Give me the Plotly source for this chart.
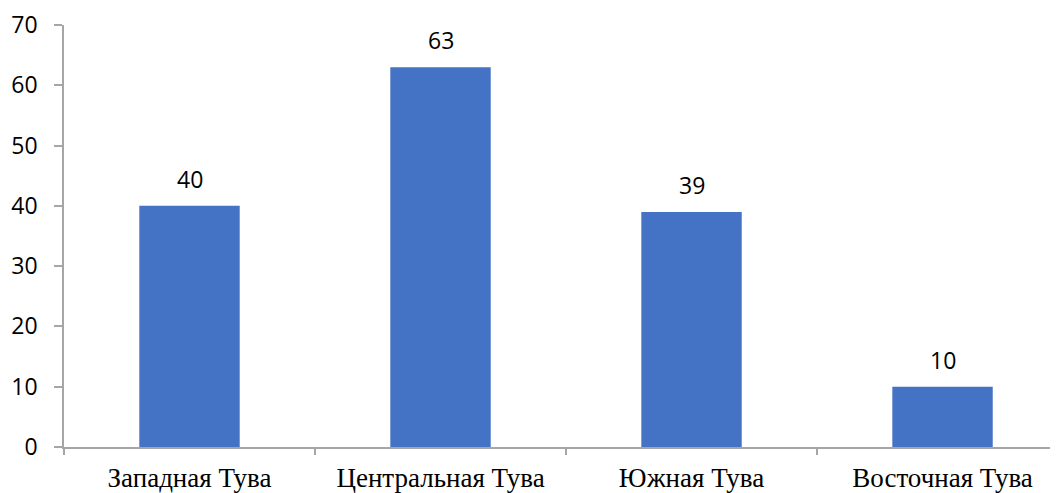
import plotly.graph_objects as go

regions = ['Западная Тува', 'Центральная Тува', 'Южная Тува', 'Восточная Тува']
values = [40, 63, 39, 10]
y_ticks = [0, 10, 20, 30, 40, 50, 60, 70]

axis_col = '#a6a6a6'
bar_col = '#4472c4'
sans = 'Open Sans, Liberation Sans'

fig = go.Figure(go.Bar(x=regions, y=values, width=0.4, marker=dict(color=bar_col, line=dict(width=0))))

# подписи значений над столбцами
for r, v in zip(regions, values):
  fig.add_annotation(x=r, y=v, text=str(v), showarrow=False, yshift=27,
                     font=dict(family=sans, size=23, color='black'))

# страница html имеет отступ 8px, поэтому фигура чуть меньше окна
fig.update_layout(
  width=1050, height=485,
  margin=dict(l=56, r=0, t=17, b=46),
  plot_bgcolor='white', paper_bgcolor='white',
  showlegend=False,
)
fig.update_yaxes(
  range=[0, 70], tickvals=y_ticks, showgrid=False, zeroline=False,
  showline=True, linecolor=axis_col, linewidth=1.5,
  ticks='outside', ticklen=8, tickcolor=axis_col, tickwidth=1.5,
  ticklabelstandoff=12, automargin=False,
  tickfont=dict(family=sans, size=23, color='black'),
)
# правый край оси обрезан, как в оригинале
fig.update_xaxes(
  range=[-0.5, 3.46],
  showgrid=False, showline=True, linecolor=axis_col, linewidth=1.5,
  ticks='outside', tickson='boundaries', ticklen=6, tickcolor=axis_col, tickwidth=1.5,
  ticklabelstandoff=6, automargin=False,
  tickfont=dict(family='Liberation Serif', size=27, color='black'),
)

fig.write_html("out.html")
